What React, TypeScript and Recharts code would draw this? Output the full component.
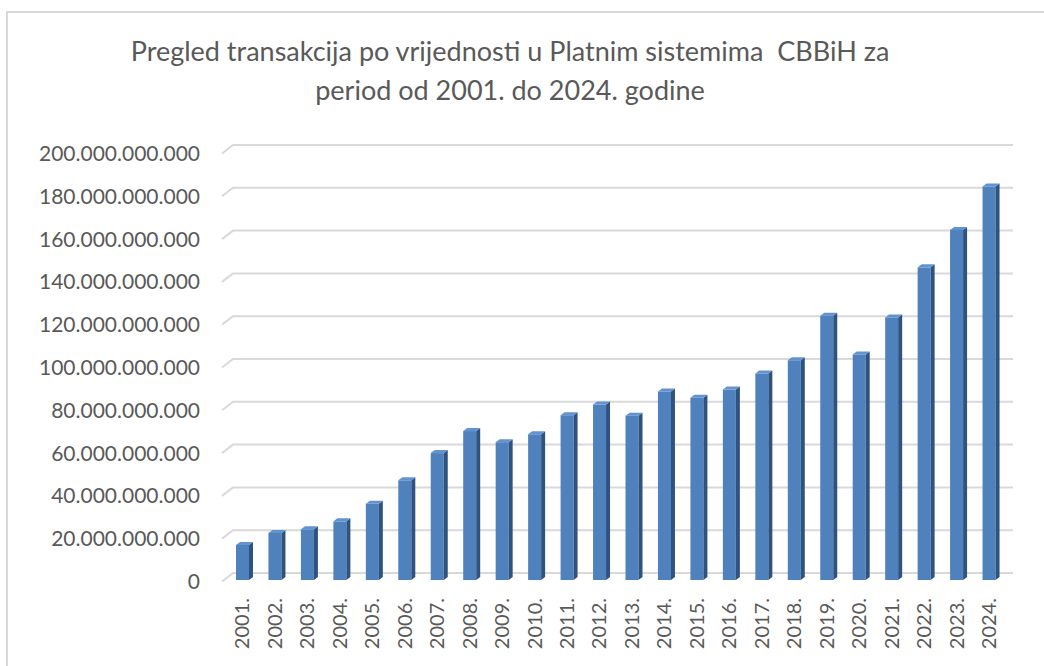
import React from 'react';
import { BarChart, Bar, XAxis, YAxis, CartesianGrid } from 'recharts';

const years = [
  '2001.', '2002.', '2003.', '2004.', '2005.', '2006.', '2007.', '2008.',
  '2009.', '2010.', '2011.', '2012.', '2013.', '2014.', '2015.', '2016.',
  '2017.', '2018.', '2019.', '2020.', '2021.', '2022.', '2023.', '2024.',
];

const values = [
  16.4e9, 22.0e9, 23.7e9, 27.4e9, 35.6e9, 46.6e9, 59.3e9, 69.6e9,
  64.4e9, 68.1e9, 77.0e9, 82.0e9, 76.8e9, 88.1e9, 85.2e9, 89.0e9,
  96.5e9, 102.7e9, 123.5e9, 105.4e9, 122.7e9, 146.1e9, 163.6e9, 183.9e9,
];

const yTicks = [0, 20e9, 40e9, 60e9, 80e9, 100e9, 120e9, 140e9, 160e9, 180e9, 200e9];

const titleLine1 = 'Pregled transakcija po vrijednosti u Platnim sistemima  CBBiH za';
const titleLine2 = 'period od 2001. do 2024. godine';

const data = years.map((year, i) => ({ year, value: values[i] }));

const fmt = (v: number) => String(Math.round(v)).replace(/\B(?=(\d{3})+(?!\d))/g, '.');

const FONT = 'Lato, "Open Sans", sans-serif';
const TEXT = '#595959';
const FRONT_OFFSET = 7;

const Bar3D = (p: any) => {
  const { x, y, width, height } = p;
  if (width == null || height == null) return null;
  const dx = 4;
  const dy = 3;
  const top = y + FRONT_OFFSET;
  const bot = y + height + FRONT_OFFSET;
  return (
    <g>
      <rect x={x} y={top} width={width} height={height} fill="#4f81bd" />
      <polygon
        points={`${x + width},${top} ${x + width + dx},${top - dy} ${x + width + dx},${bot - dy} ${x + width},${bot}`}
        fill="#30527f"
      />
      <polygon
        points={`${x},${top} ${x + dx},${top - dy} ${x + width + dx},${top - dy} ${x + width},${top}`}
        fill="#6093cf"
      />
    </g>
  );
};

const GridLine = (p: any) => {
  const { x1, x2, y1, index } = p;
  const d = `M ${x1 - 4} ${y1 + 8.5} L ${x1 + 7} ${y1} L ${x2 + 8} ${y1}`;
  return <path key={`g-${index}-${y1}`} d={d} stroke="#d9d9d9" strokeWidth={2} fill="none" />;
};

const YTick = (p: any) => {
  const { x, y, payload } = p;
  return (
    <text x={x} y={y + 7.5} textAnchor="end" dominantBaseline="central" fill={TEXT} fontSize={21} fontFamily={FONT}>
      {fmt(payload.value)}
    </text>
  );
};

const XTick = (p: any) => {
  const { x, y, payload } = p;
  return (
    <g transform={`translate(${x},${y})`}>
      <text transform="rotate(-90)" textAnchor="end" dy="0.36em" fill={TEXT} fontSize={20} fontFamily={FONT}>
        {payload.value}
      </text>
    </g>
  );
};

export default function App() {
  return (
    <div style={{ position: 'fixed', left: 0, top: 0, width: 1044, height: 666, overflow: 'hidden', background: '#fff' }}>
      <div
        style={{
          position: 'absolute', left: 6, top: 11, width: 1100, height: 720,
          border: '2px solid #d9d9d9', boxSizing: 'border-box',
        }}
      />
      <div
        style={{
          position: 'absolute', left: 10, top: 31, width: 1000, textAlign: 'center',
          fontFamily: FONT, fontSize: 27, color: TEXT, lineHeight: '39px', whiteSpace: 'pre',
        }}
      >
        <div>{titleLine1}</div>
        <div>{titleLine2}</div>
      </div>
      <div style={{ position: 'absolute', left: 0, top: 0 }}>
        <BarChart
          width={1044}
          height={666}
          data={data}
          margin={{ top: 145, right: 39, bottom: 33, left: 10 }}
        >
          <CartesianGrid vertical={false} horizontal={GridLine as any} />
          <XAxis
            dataKey="year"
            interval={0}
            height={60}
            tickLine={false}
            axisLine={false}
            tickSize={0}
            tickMargin={25}
            tick={XTick}
          />
          <YAxis
            width={216}
            domain={[0, 200e9]}
            ticks={yTicks}
            interval={0}
            tickLine={false}
            axisLine={false}
            tickSize={0}
            tickMargin={26}
            tick={YTick}
          />
          <Bar dataKey="value" barSize={13} shape={Bar3D} isAnimationActive={false} />
        </BarChart>
      </div>
    </div>
  );
}
